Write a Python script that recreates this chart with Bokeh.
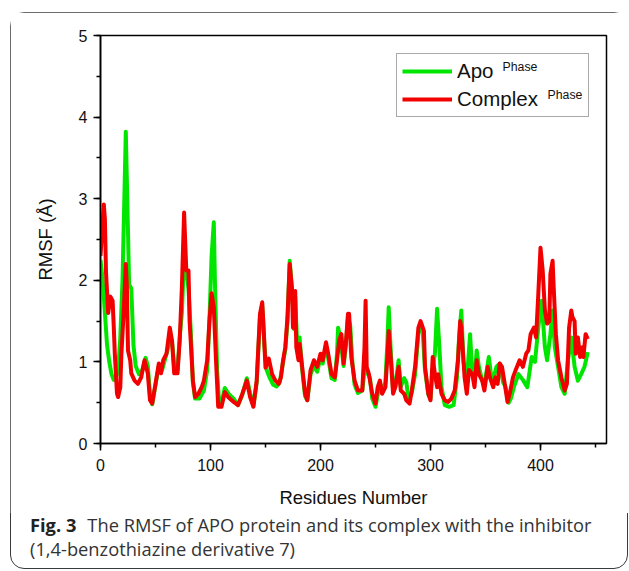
from bokeh.plotting import figure
from bokeh.layouts import column
from bokeh.models import Range1d, SingleIntervalTicker, Legend, LegendItem, Label, Div
from bokeh.embed import file_html
from bokeh.resources import INLINE

# ---- data ----
apo_res = [0, 2, 4, 6, 8, 10, 12, 14, 16, 18, 20, 22, 23, 25, 26, 28, 30, 32, 35, 38,
           41, 43, 45, 47, 50, 53, 56, 58, 61, 63, 65, 67, 70, 72, 74, 76, 78, 80, 82, 84,
           86, 90, 94, 97, 99, 101, 103, 104, 106, 108, 110, 113, 117, 121, 125, 129, 133, 136, 139, 142,
           145, 147, 149, 151, 154, 157, 160, 163, 166, 168, 170, 172, 174, 176, 177, 179, 181, 183, 186, 188,
           191, 194, 197, 200, 202, 205, 207, 210, 213, 215, 216, 218, 221, 223, 225, 227, 229, 231, 234, 238,
           240, 242, 245, 247, 250, 252, 254, 256, 259, 261, 262, 264, 266, 268, 271, 273, 276, 278, 280, 283,
           286, 289, 291, 293, 295, 298, 300, 302, 304, 306, 308, 310, 313, 317, 321, 324, 326, 328, 330, 333,
           336, 338, 340, 342, 344, 347, 350, 353, 355, 357, 360, 363, 366, 368, 371, 373, 376, 380, 384, 388,
           392, 395, 398, 401, 404, 406, 409, 411, 413, 416, 419, 422, 425, 428, 431, 434, 437, 440, 443]
apo_rmsf = [2.25, 2.0, 1.6, 1.2, 1.0, 0.85, 0.78, 0.8, 0.9, 1.3, 2.0, 3.2, 3.82, 2.6, 1.95, 1.9, 1.2, 0.95, 0.85, 0.9,
            1.05, 0.95, 0.6, 0.48, 0.72, 0.95, 0.9, 1.0, 1.15, 1.3, 1.25, 0.95, 0.9, 1.3, 1.6, 2.3, 2.1, 1.9, 1.4, 0.75,
            0.55, 0.55, 0.65, 0.9, 1.5, 2.3, 2.71, 2.0, 0.9, 0.46, 0.5, 0.68, 0.6, 0.55, 0.47, 0.6, 0.8, 0.62, 0.46, 0.75,
            1.55, 1.7, 1.2, 0.9, 0.8, 0.72, 0.7, 0.75, 1.0, 1.15, 1.5, 2.24, 1.9, 1.4, 1.8, 1.15, 1.3, 0.95, 0.58, 0.53,
            0.85, 0.95, 0.88, 1.05, 0.98, 1.2, 1.05, 0.8, 0.78, 1.1, 1.42, 1.3, 0.95, 1.2, 1.55, 1.45, 1.0, 0.72, 0.62, 0.65,
            0.9, 0.88, 0.8, 0.55, 0.45, 0.6, 0.75, 0.62, 0.75, 1.3, 1.67, 1.1, 0.65, 0.7, 1.02, 0.7, 0.8, 0.75, 0.55, 0.62,
            0.85, 1.35, 1.45, 1.35, 0.9, 0.6, 0.55, 0.9, 1.1, 1.65, 1.2, 0.69, 0.47, 0.45, 0.47, 0.8, 1.3, 1.63, 1.0, 0.77,
            1.34, 0.85, 0.8, 1.14, 0.94, 0.77, 0.8, 1.06, 0.85, 0.78, 0.94, 0.98, 0.75, 0.7, 0.5, 0.55, 0.7, 0.85, 0.78, 0.69,
            1.06, 1.0, 1.42, 1.75, 1.18, 1.02, 1.34, 1.63, 1.18, 0.94, 0.69, 0.61, 1.02, 1.3, 0.94, 0.77, 0.85, 0.94, 1.12]

cplx_res = [0, 3, 4, 5, 7, 9, 11, 12, 13, 15, 16, 18, 19, 21, 23, 24, 25, 27, 28, 31,
            34, 37, 40, 43, 45, 47, 50, 53, 55, 57, 60, 63, 65, 67, 70, 72, 74, 76, 78, 80,
            81, 84, 86, 89, 92, 94, 97, 99, 101, 103, 105, 107, 110, 113, 116, 121, 125, 129, 133, 136,
            139, 142, 145, 147, 148, 150, 153, 156, 159, 162, 164, 166, 168, 170, 172, 174, 175, 177, 178, 180,
            181, 183, 186, 188, 191, 194, 197, 200, 202, 205, 207, 210, 213, 215, 217, 219, 221, 223, 225, 226,
            228, 231, 234, 238, 240, 241, 242, 244, 247, 250, 252, 254, 256, 259, 261, 262, 264, 266, 268, 271,
            273, 276, 278, 281, 283, 286, 289, 291, 294, 295, 298, 300, 302, 304, 306, 307, 310, 313, 316, 319,
            322, 325, 327, 328, 331, 333, 335, 338, 340, 342, 344, 347, 349, 352, 354, 357, 359, 361, 363, 365,
            368, 370, 372, 375, 378, 381, 384, 387, 389, 391, 394, 396, 398, 400, 402, 404, 406, 408, 409, 411,
            412, 414, 416, 419, 422, 424, 426, 428, 429, 431, 432, 434, 436, 438, 439, 441, 443]
cplx_rmsf = [2.3, 2.93, 2.75, 2.1, 1.6, 1.8, 1.75, 1.45, 1.1, 0.61, 0.57, 0.69, 1.1, 1.59, 2.2, 1.92, 1.14, 1.02, 0.86, 0.77,
             0.73, 0.81, 1.02, 0.86, 0.53, 0.49, 0.73, 0.98, 0.86, 1.02, 1.1, 1.42, 1.26, 0.86, 0.86, 1.26, 1.92, 2.83, 2.12, 2.12,
             1.5, 0.77, 0.57, 0.61, 0.69, 0.77, 1.02, 1.5, 1.84, 1.67, 1.02, 0.45, 0.45, 0.63, 0.57, 0.51, 0.47, 0.61, 0.77, 0.57,
             0.45, 0.77, 1.59, 1.73, 1.5, 0.93, 1.04, 0.85, 0.77, 0.73, 0.81, 1.02, 1.18, 1.55, 2.2, 1.91, 1.42, 1.87, 1.18, 1.02,
             1.22, 0.98, 0.61, 0.53, 0.9, 1.02, 0.94, 1.1, 1.02, 1.24, 1.1, 0.85, 0.81, 1.02, 1.26, 1.34, 0.98, 1.22, 1.59, 1.59,
             1.06, 0.77, 0.65, 0.65, 1.18, 1.75, 0.94, 0.85, 0.61, 0.49, 0.69, 0.77, 0.61, 0.69, 1.1, 1.38, 1.02, 0.61, 0.69, 0.94,
             0.65, 0.61, 0.53, 0.49, 0.65, 0.94, 1.42, 1.5, 1.38, 0.94, 0.61, 0.53, 1.06, 0.85, 0.69, 0.85, 0.61, 0.53, 0.51, 0.55,
             0.65, 1.02, 1.5, 1.42, 0.81, 0.61, 0.9, 0.85, 0.69, 1.02, 0.85, 0.77, 0.65, 0.94, 0.81, 0.69, 0.81, 0.73, 0.98, 0.94,
             0.69, 0.51, 0.61, 0.81, 0.92, 1.02, 0.94, 1.1, 1.14, 1.34, 1.42, 1.3, 1.83, 2.4, 2.12, 1.63, 1.47, 1.5, 2.08, 2.24,
             1.91, 1.34, 1.02, 0.81, 0.65, 0.73, 1.42, 1.63, 1.55, 1.5, 1.1, 1.3, 1.06, 1.18, 1.06, 1.34, 1.28]

series_labels = ["Apo", "Complex"]
superscript = "Phase"
x_label = "Residues Number"
y_label = "RMSF (Å)"
caption_bold = "Fig. 3"
caption_line1 = "The RMSF of APO protein and its complex with the inhibitor"
caption_line2 = "(1,4-benzothiazine derivative 7)"

GREEN = "#00e600"
RED = "#f20000"
AXIS_FONT = "Liberation Sans"
CAP_FONT = "Open Sans"

# ---------------- main chart ----------------
p = figure(frame_width=506, frame_height=408,
           x_range=Range1d(0, 460), y_range=Range1d(0, 5),
           output_backend="svg", toolbar_location=None,
           min_border_left=90, min_border_right=22,
           min_border_top=23, min_border_bottom=70, margin=0)

p.xgrid.visible = False
p.ygrid.visible = False
p.outline_line_color = "black"
p.outline_line_width = 1.5
p.outline_line_alpha = 1

p.xaxis.ticker = SingleIntervalTicker(interval=100, num_minor_ticks=2)
p.yaxis.ticker = SingleIntervalTicker(interval=1, num_minor_ticks=2)
for ax in (p.xaxis, p.yaxis):
    ax.axis_line_width = 1.6
    ax.axis_line_color = "black"
    ax.major_tick_line_width = 1.5
    ax.minor_tick_line_width = 1.5
    ax.major_tick_in = 0
    ax.major_tick_out = 7
    ax.minor_tick_in = 0
    ax.minor_tick_out = 4
    ax.major_label_text_font = AXIS_FONT
    ax.major_label_text_font_size = "16px"
    ax.major_label_text_color = "#111111"
    ax.axis_label_text_font = AXIS_FONT
    ax.axis_label_text_font_size = "18.5px"
    ax.axis_label_text_font_style = "normal"
    ax.axis_label_text_color = "#111111"
p.xaxis.axis_label = x_label
p.yaxis.axis_label = y_label
p.xaxis.major_label_standoff = 8
p.yaxis.major_label_standoff = 6
p.xaxis.axis_label_standoff = 13
p.yaxis.axis_label_standoff = 20

g = p.line(apo_res, apo_rmsf, line_color=GREEN, line_width=4, line_join="round")
r = p.line(cplx_res, cplx_rmsf, line_color=RED, line_width=4, line_join="round")

legend = Legend(items=[LegendItem(label=series_labels[0], renderers=[g]),
                       LegendItem(label=series_labels[1], renderers=[r])],
                location=(296, 326), padding=5, spacing=4,
                glyph_width=50, glyph_height=22, label_height=22, label_width=126,
                label_standoff=5, label_text_font=AXIS_FONT,
                label_text_font_size="20.5px", label_text_color="#111111",
                border_line_color="#555555", border_line_width=1,
                background_fill_alpha=0)
p.add_layout(legend)

p.add_layout(Label(x=365.5, y=4.62, text=superscript, text_font=AXIS_FONT,
                   text_font_size="12.3px", text_baseline="middle", text_color="#111111"))
p.add_layout(Label(x=406.4, y=4.27, text=superscript, text_font=AXIS_FONT,
                   text_font_size="12.3px", text_baseline="middle", text_color="#111111"))

# ---------------- caption ----------------
caption_html = (
    f'<div style="font-family:\'{CAP_FONT}\';font-size:18.3px;line-height:24px;'
    f'color:#333333;padding-left:20px;white-space:nowrap;">'
    f'<b style="color:#222222;">{caption_bold}</b>'
    f'<span style="margin-left:11px;">{caption_line1}</span><br>{caption_line2}</div>'
)
cap = Div(text=caption_html, width=618, height=56, margin=0)

layout = column(p, cap, spacing=0, width=618, height=557)
layout.styles = {"margin-left": "10px", "margin-top": "12px",
                 "width": "618px", "height": "557px",
                 "outline": "1.4px solid #3a3a3a", "outline-offset": "-1.4px",
                 "border-radius": "14px"}

open("out.html", "w").write(file_html(layout, INLINE))
